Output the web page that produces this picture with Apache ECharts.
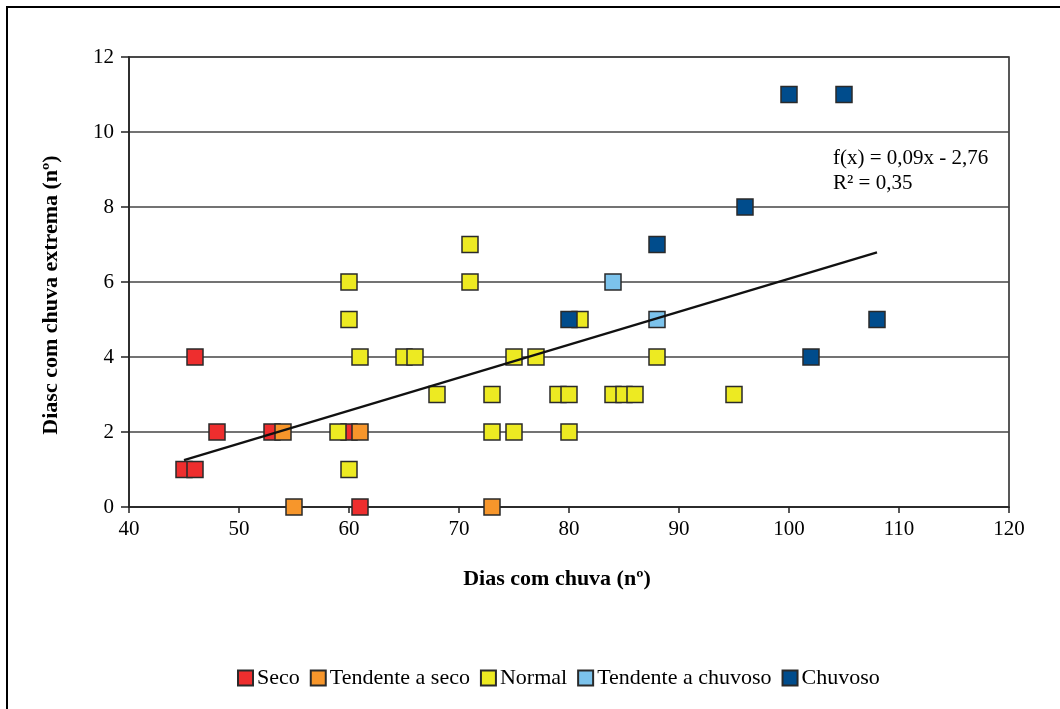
<!DOCTYPE html>
<html>
<head>
<meta charset="utf-8">
<script src="https://cdn.jsdelivr.net/npm/echarts@6/dist/echarts.min.js"></script>
<style>html,body{margin:0;padding:0;background:#fff;}#c{width:1060px;height:709px;}</style>
</head>
<body>
<div id="c"></div>
<script>
const seriesNames = ['Seco', 'Tendente a seco', 'Normal', 'Tendente a chuvoso', 'Chuvoso'];
const seco = [[46,4],[48,2],[53,2],[45,1],[46,1],[60,2],[61,0]];
const tendenteSeco = [[54,2],[61,2],[55,0],[73,0]];
const normal = [[59,2],[60,1],[60,5],[60,6],[61,4],[65,4],[66,4],[68,3],[71,6],[71,7],[73,3],[73,2],[75,2],[75,4],[77,4],[79,3],[80,3],[80,2],[81,5],[84,3],[85,3],[86,3],[88,4],[95,3]];
const tendenteChuvoso = [[84,6],[88,5]];
const chuvoso = [[80,5],[88,7],[96,8],[100,11],[105,11],[102,4],[108,5]];
const trendLine = [[45,1.25],[108,6.79]];
const equationText = ['f(x) = 0,09x - 2,76', 'R² = 0,35'];
const xTitle = 'Dias com chuva (nº)';
const yTitle = 'Diasc com chuva extrema (nº)';
const colors = ['#EE2E2E', '#F7962B', '#EDEA22', '#7CC3EC', '#004C8C'];
const groups = [seco, tendenteSeco, normal, tendenteChuvoso, chuvoso];

const font = 'Liberation Serif';
const chart = echarts.init(document.getElementById('c'), null, {renderer: 'canvas'});

const scatterSeries = groups.map((d, i) => ({
  name: seriesNames[i],
  type: 'scatter',
  data: d,
  symbol: 'rect',
  symbolSize: 16,
  itemStyle: {color: colors[i], borderColor: '#2a2a2a', borderWidth: 1.5, opacity: 1},
  emphasis: {disabled: true},
  z: 3 + i
}));

chart.setOption({
  animation: false,
  backgroundColor: '#fff',
  grid: {left: 129, top: 57, width: 880, height: 450, show: true, borderColor: '#222', borderWidth: 1.5, backgroundColor: 'transparent'},
  xAxis: {
    type: 'value', min: 40, max: 120, interval: 10,
    axisLine: {show: true, onZero: false, lineStyle: {color: '#222', width: 1.5}},
    axisTick: {show: true, length: 6, lineStyle: {color: '#222', width: 1.5}},
    axisLabel: {fontFamily: font, fontSize: 21, color: '#000', margin: 12},
    splitLine: {show: false}
  },
  yAxis: {
    type: 'value', min: 0, max: 12, interval: 2,
    axisLine: {show: true, onZero: false, lineStyle: {color: '#222', width: 1.5}},
    axisTick: {show: true, length: 8, lineStyle: {color: '#222', width: 1.5}},
    axisLabel: {fontFamily: font, fontSize: 21, color: '#000', margin: 15},
    splitLine: {show: true, lineStyle: {color: '#444', width: 1.5}}
  },
  legend: {
    data: seriesNames,
    top: 662, left: 232,
    itemWidth: 15, itemHeight: 15, itemGap: 10,
    icon: 'rect',
    textStyle: {fontFamily: font, fontSize: 22, color: '#000', padding: [0,0,0,-1]},
    selectedMode: false
  },
  graphic: [
    {type: 'rect', shape: {x: 7, y: 7, width: 1100, height: 800}, style: {fill: 'none', stroke: '#000', lineWidth: 2}, silent: true, z: 0},
    {type: 'text', x: 833, y: 146, style: {text: equationText.join('\n'), font: '21px "Liberation Serif"', fill: '#000', lineHeight: 25}},
    {type: 'text', x: 557, y: 579, style: {text: xTitle, font: 'bold 22px "Liberation Serif"', fill: '#000', align: 'center', verticalAlign: 'middle'}},
    {type: 'text', x: 51, y: 295, rotation: Math.PI/2, style: {text: yTitle, font: 'bold 22px "Liberation Serif"', fill: '#000', align: 'center', verticalAlign: 'middle'}}
  ],
  series: scatterSeries.concat([{
    name: 'trend', type: 'line', data: trendLine, symbol: 'none',
    lineStyle: {color: '#111', width: 2.2}, z: 10, silent: true
  }])
});
</script>
</body>
</html>
